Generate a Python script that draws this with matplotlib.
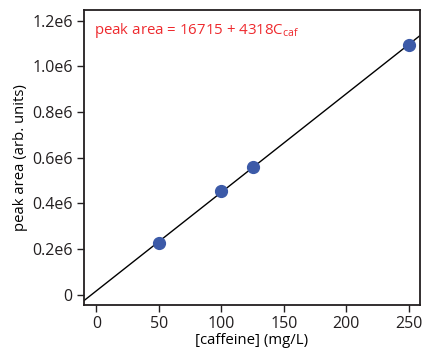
import numpy as np
import matplotlib
matplotlib.use('Agg')
import matplotlib.pyplot as plt

# data
conc = [50, 100, 125, 250]
area = [225000, 455000, 558000, 1093500]
intercept = 16715
slope = 4318

xticks = [0, 50, 100, 150, 200, 250]
yticks = [0, 0.2e6, 0.4e6, 0.6e6, 0.8e6, 1.0e6, 1.2e6]
ytick_labels = ['0', '0.2e6', '0.4e6', '0.6e6', '0.8e6', '1.0e6', '1.2e6']

plt.rcParams['font.family'] = ['Open Sans', 'DejaVu Sans']
plt.rcParams['mathtext.fontset'] = 'custom'
plt.rcParams['mathtext.rm'] = 'Open Sans'

fig = plt.figure(figsize=(4.22, 3.5), dpi=100)
ax = fig.add_axes([0.199, 0.129, 0.796, 0.842])

xlim = (-10, 259)
xfit = np.array(xlim)
ax.plot(xfit, intercept + slope * xfit, color='black', lw=1.0, zorder=2)
ax.plot(conc, area, 'o', color='#3c5aa8', markersize=8.5, zorder=3)

ax.set_xlim(*xlim)
ax.set_ylim(-45000, 1.247e6)
ax.set_xticks(xticks)
ax.set_yticks(yticks)
ax.set_yticklabels(ytick_labels)
ax.tick_params(direction='out', length=5, width=1, labelsize=11.5, colors='#231f20', pad=3)
for s in ax.spines.values():
    s.set_linewidth(1.3)
    s.set_color('#231f20')

ax.set_xlabel('[caffeine] (mg/L)', fontsize=10.7, labelpad=1)
ax.set_ylabel('peak area (arb. units)', fontsize=10.7, labelpad=3)

ax.text(0.03, 0.93, r'peak area = 16715 + 4318C$_\mathregular{caf}$',
        transform=ax.transAxes, color='#ee2a2e', fontsize=10.8, va='center', ha='left')

fig.savefig('out.png', dpi=100)
